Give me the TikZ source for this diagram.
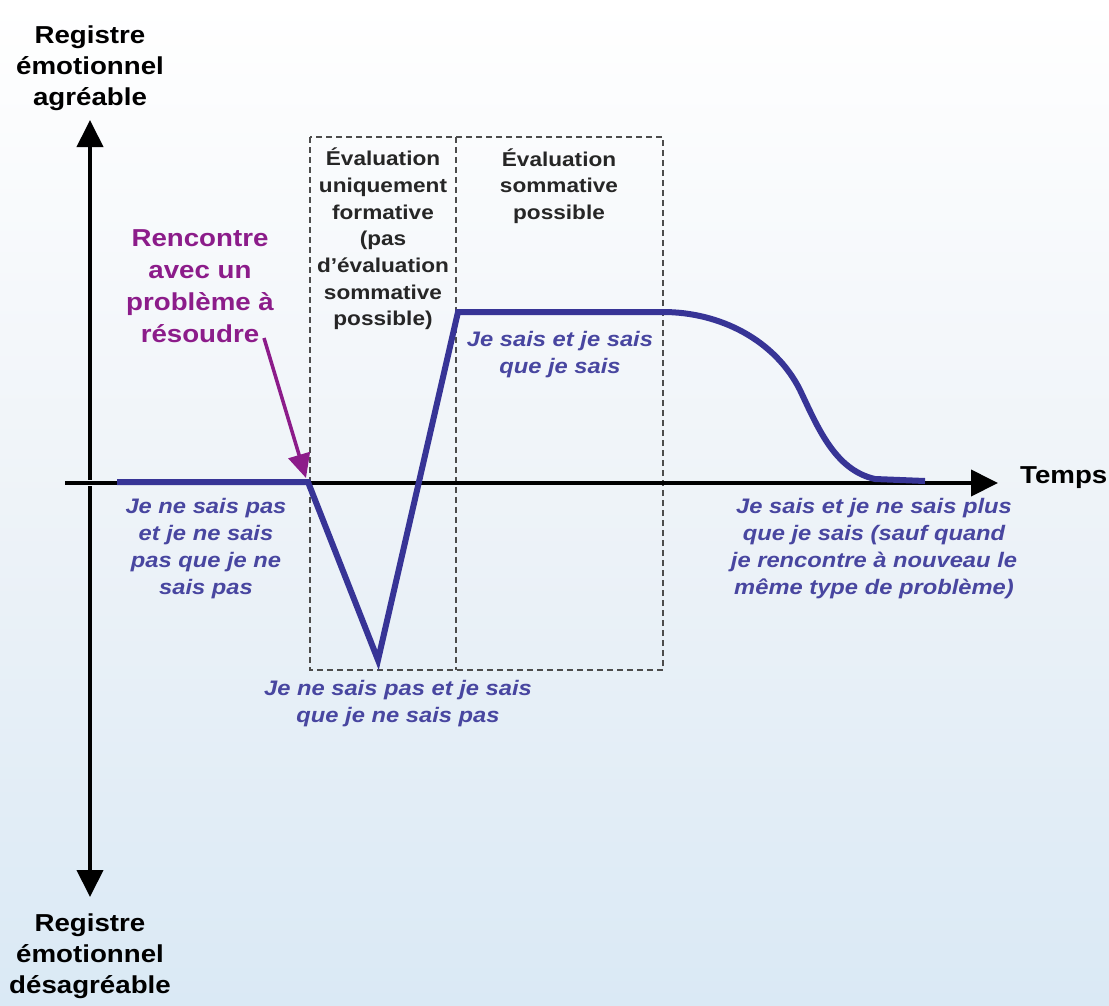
\documentclass[tikz,border=0pt]{standalone}
\usepackage{fontspec}
\setmainfont{Liberation Sans}[FakeStretch=1.13]
\usetikzlibrary{arrows.meta}
\definecolor{curveblue}{RGB}{55,52,150}
\definecolor{textblue}{RGB}{72,70,160}
\definecolor{purp}{RGB}{140,28,138}
\definecolor{bgblue}{RGB}{218,233,245}
\definecolor{bgmid}{RGB}{238,243,248}
\begin{document}
\begin{tikzpicture}[x=1pt,y=-1pt,
  axis/.style={line width=4pt,-{Triangle[length=27pt,width=26pt]}},
  axlabel/.style={font=\fontsize{24.5}{31}\selectfont\bfseries,align=center,text=black,inner sep=0pt},
  boxlabel/.style={font=\fontsize{20}{26.7}\selectfont\bfseries,align=center,text=black!85,inner sep=0pt},
  bluelabel/.style={font=\fontsize{21}{27}\selectfont\bfseries\itshape,align=center,text=textblue,inner sep=0pt},
  purplabel/.style={font=\fontsize{24.5}{32}\selectfont\bfseries,align=center,text=purp,inner sep=0pt},
  zonebox/.style={draw=black!70,line width=1.5pt,dash pattern=on 6pt off 4pt},
  curve/.style={draw=curveblue,line width=6pt,line join=miter}
]
\useasboundingbox (0,0) rectangle (1109,1005);
\shade[top color=white, bottom color=bgblue, middle color=bgmid] (0,0) rectangle (1109,1005);

% dashed zones
\coordinate (zmt) at (456,137);
\coordinate (zmb) at (456,670);
\draw[zonebox] (310,137) rectangle (663,670);
\draw[zonebox] (zmt) -- (zmb);

% axes
\coordinate (vbot) at (90,897);
\coordinate (vtop) at (90,120);
\coordinate (hleft) at (65,483);
\coordinate (hright) at (998,483);
\draw[axis] (90,480) -- (vtop);
\draw[axis] (90,486) -- (vbot);
\draw[axis] (hleft) -- (hright);

% curve
\coordinate (c0) at (117,482);
\coordinate (c1) at (308,482);
\coordinate (c2) at (378,660);
\coordinate (c3) at (458,312);
\coordinate (c4) at (663,312);
\coordinate (c5) at (800,390);
\coordinate (c6) at (875,479);
\coordinate (c7) at (925,481);
\draw[curve] (c0) -- (c1) -- (c2) -- (c3) -- (c4)
  .. controls (720,312) and (775,340) .. (c5)
  .. controls (818,428) and (835,470) .. (c6) -- (c7);

% labels
\node[axlabel] (top) at (90,68) {Registre\\émotionnel\\agréable};
\node[axlabel] (bot) at (90,956) {Registre\\émotionnel\\désagréable};
\node[axlabel,anchor=west] (temps) at (1020,478) {Temps};

\node[boxlabel] (formative) at (383,239) {Évaluation\\uniquement\\formative\\(pas\\d’évaluation\\sommative\\possible)};
\node[boxlabel] (sommative) at (559,186) {Évaluation\\sommative\\possible};

\node[purplabel] (rencontre) at (200,286) {Rencontre\\avec un\\problème à\\résoudre};
\coordinate (hit) at (306,478);
\draw[purp,line width=3.5pt,-{Triangle[length=24pt,width=22pt]}] (264,338) -- (hit);

\node[bluelabel] (b1) at (206,549) {Je ne sais pas\\et je ne sais\\pas que je ne\\sais pas};
\node[bluelabel] (b2) at (398,704) {Je ne sais pas et je sais\\que je ne sais pas};
\node[bluelabel] (b3) at (560,355) {Je sais et je sais\\que je sais};
\node[bluelabel] (b4) at (874,549) {Je sais et je ne sais plus\\que je sais (sauf quand\\je rencontre à nouveau le\\même type de problème)};
\end{tikzpicture}
\end{document}
